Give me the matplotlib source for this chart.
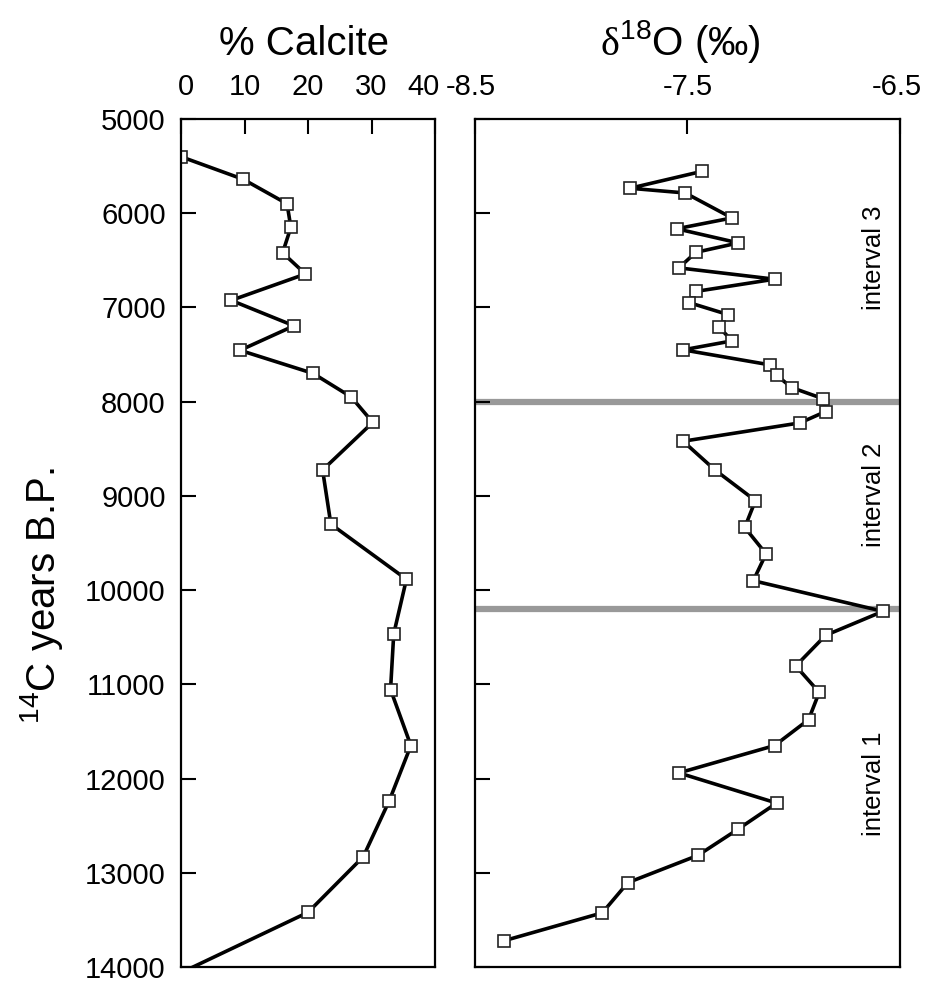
import matplotlib
matplotlib.use("Agg")
import matplotlib.pyplot as plt
from matplotlib.transforms import ScaledTranslation

plt.rcParams['font.family'] = ['Liberation Sans', 'DejaVu Sans']
plt.rcParams['mathtext.fontset'] = 'custom'
plt.rcParams['mathtext.rm'] = 'Liberation Serif'
plt.rcParams['mathtext.sf'] = 'Liberation Sans'
plt.rcParams['axes.unicode_minus'] = False

# % calcite profile (age in 14C years B.P.)
calcite_age = [5400, 5640, 5900, 6150, 6420, 6645, 6925, 7195, 7455, 7700, 7950,
               8220, 8725, 9300, 9885, 10465, 11055, 11650, 12235, 12830, 13420, 14000]
calcite_pct = [0.0, 9.8, 16.7, 17.3, 16.0, 19.6, 7.9, 17.8, 9.3, 20.8, 26.8,
               30.2, 22.3, 23.6, 35.5, 33.5, 33.0, 36.2, 32.8, 28.7, 20.0, 1.9]

# oxygen isotope profile
d18o_age = [5555, 5735, 5785, 6050, 6165, 6315, 6415, 6580, 6700, 6830, 6950,
            7075, 7210, 7355, 7450, 7610, 7720, 7850, 7970, 8105, 8225,
            8420, 8725, 9050, 9335, 9615, 9900, 10225, 10480, 10805, 11085,
            11375, 11650, 11940, 12260, 12535, 12815, 13105, 13425, 13720]
d18o = [-7.43, -7.77, -7.51, -7.29, -7.55, -7.26, -7.46, -7.54, -7.09, -7.46, -7.49,
        -7.31, -7.35, -7.29, -7.52, -7.11, -7.08, -7.01, -6.86, -6.85, -6.97,
        -7.52, -7.37, -7.18, -7.23, -7.13, -7.19, -6.58, -6.85, -6.99, -6.88,
        -6.93, -7.09, -7.54, -7.08, -7.26, -7.45, -7.78, -7.90, -8.36]

boundaries = [8000, 10200]
interval_labels = ["interval 3", "interval 2", "interval 1"]
interval_age = [6470, 8990, 12050]

fig = plt.figure(figsize=(9.29, 9.88), dpi=100)
ax1 = fig.add_axes([181/929, 1 - 967/988, 254/929, 848/988])
ax2 = fig.add_axes([474.7/929, 1 - 967/988, 425.3/929, 848/988])

line_kw = dict(color='black', lw=2.6, marker='s', markersize=9,
               markerfacecolor='white', markeredgecolor='#222222', markeredgewidth=1.2)

ax1.plot(calcite_pct, calcite_age, markevery=slice(0, len(calcite_age) - 1), **line_kw)
ax1.set_xlim(0, 40)
ax1.set_ylim(14000, 5000)
ax1.set_xticks([0, 10, 20, 30, 40])
ax1.set_yticks(range(5000, 14001, 1000))

for b in boundaries:
    ax2.axhline(b, color='#999999', lw=4.5, zorder=1)
ax2.plot(d18o, d18o_age, zorder=3, **line_kw)
ax2.set_xlim(-8.5, -6.5)
ax2.set_ylim(14000, 5000)
ax2.set_xticks([-8.5, -7.5, -6.5])
ax2.set_xticklabels(['-8.5', '-7.5', '-6.5'])
ax2.set_yticks(range(5000, 14001, 1000))
ax2.set_yticklabels([])

for lab, a in zip(interval_labels, interval_age):
    ax2.text(-6.62, a, lab, rotation=90, ha='center', va='center', fontsize=18.5)

for ax in (ax1, ax2):
    ax.xaxis.tick_top()
    ax.tick_params(axis='both', direction='in', length=11, width=1.5,
                   labelsize=21, top=True, bottom=False, right=False, left=True)
    ax.tick_params(axis='x', pad=13)
    ax.tick_params(axis='y', pad=11)
    for s in ax.spines.values():
        s.set_linewidth(1.6)

# nudge the end labels inward like the original
def nudge(label, dx):
    label.set_transform(label.get_transform() + ScaledTranslation(dx / 100, 0, fig.dpi_scale_trans))

xl1 = ax1.get_xticklabels()
nudge(xl1[0], 5)
nudge(xl1[-1], -12)
xl2 = ax2.get_xticklabels()
nudge(xl2[0], -4)
nudge(xl2[-1], -3)

fig.text(304/929, 1 - 55/988, '% Calcite', ha='center', va='baseline', fontsize=29)
fig.text(680/929, 1 - 55/988, r'$\mathrm{\delta}^{\mathsf{18}}$O (‰)', ha='center', va='baseline', fontsize=29)
fig.text(42/929, 1 - 595/988, r'$^{\mathsf{14}}$C years B.P.', rotation=90,
         ha='center', va='center', fontsize=29)

fig.savefig('out.png', dpi=100)
